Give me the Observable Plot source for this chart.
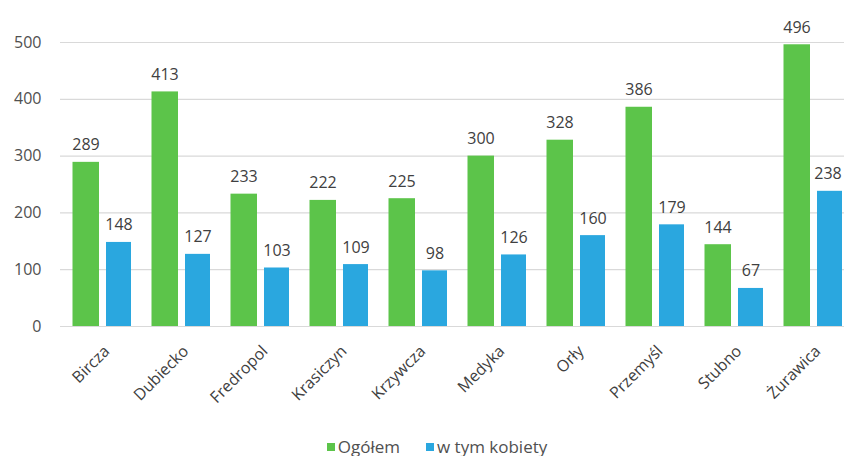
<!DOCTYPE html>
<html>
<head>
<meta charset="utf-8">
<script src="https://cdn.jsdelivr.net/npm/d3@7"></script>
<script src="https://cdn.jsdelivr.net/npm/@observablehq/plot@0.6"></script>
<style>
  body { margin: 0; background: #fff; font-family: "Open Sans", sans-serif; }
  #chart svg { display: block; }
  .legend { display: flex; justify-content: center; align-items: center; gap: 26px; margin-top: 26px; font-size: 17px; color: #505050; height: 20px; padding-left: 30px; }
  .legend span.sw { display: inline-block; width: 8px; height: 8px; margin-right: 3px; vertical-align: middle; position: relative; top: -1px; }
</style>
</head>
<body>
<div id="chart"></div>
<div class="legend">
  <div><span class="sw" style="background:#5cc44a"></span>Ogółem</div>
  <div><span class="sw" style="background:#2aa7df"></span>w tym kobiety</div>
</div>
<script>
const categories = ["Bircza", "Dubiecko", "Fredropol", "Krasiczyn", "Krzywcza", "Medyka", "Orły", "Przemyśl", "Stubno", "Żurawica"];
const ogolem = [289, 413, 233, 222, 225, 300, 328, 386, 144, 496];
const kobiety = [148, 127, 103, 109, 98, 126, 160, 179, 67, 238];
const yTicks = [0, 100, 200, 300, 400, 500];

const dataOg = categories.map((c, i) => ({cat: c, v: ogolem[i]}));
const dataKob = categories.map((c, i) => ({cat: c, v: kobiety[i]}));
const lastCat = categories[categories.length - 1];

const chart = Plot.plot({
  width: 844,
  height: 410,
  marginTop: 42,
  marginBottom: 84,
  marginLeft: 60,
  marginRight: 0,
  style: {fontFamily: "Open Sans, sans-serif", background: "#fff"},
  x: {type: "band", domain: categories, range: [60, 856], paddingInner: 0, paddingOuter: 0},
  y: {domain: [0, 500]},
  marks: [
    Plot.gridY(yTicks, {stroke: "#d9d9d9", strokeOpacity: 1, strokeWidth: 1.2}),
    Plot.barY(dataOg, {x: "cat", y: "v", fill: "#5cc44a", insetLeft: 9.5, insetRight: 43}),
    Plot.barY(dataKob, {x: "cat", y: "v", fill: "#2aa7df", insetLeft: 43, insetRight: 11}),
    Plot.text(dataOg, {x: "cat", y: "v", text: d => String(d.v), dx: -17, dy: -12, lineAnchor: "bottom", fontSize: 16, fill: "#404040"}),
    Plot.text(dataKob.filter(d => d.cat !== lastCat), {x: "cat", y: "v", text: d => String(d.v), dx: 16, dy: -12, lineAnchor: "bottom", fontSize: 16, fill: "#404040"}),
    Plot.text(dataKob.filter(d => d.cat === lastCat), {x: "cat", y: "v", text: d => String(d.v), dx: 14, dy: -12, lineAnchor: "bottom", fontSize: 16, fill: "#404040"}),
    Plot.axisY(yTicks, {tickSize: 0, tickPadding: 19, fontSize: 16, fill: "#505050", label: null}),
    Plot.axisX({tickSize: 0, tickRotate: -45, tickPadding: 22, dx: 4, fontSize: 16, fill: "#404040", label: null})
  ]
});
document.getElementById("chart").appendChild(chart);
</script>
</body>
</html>
